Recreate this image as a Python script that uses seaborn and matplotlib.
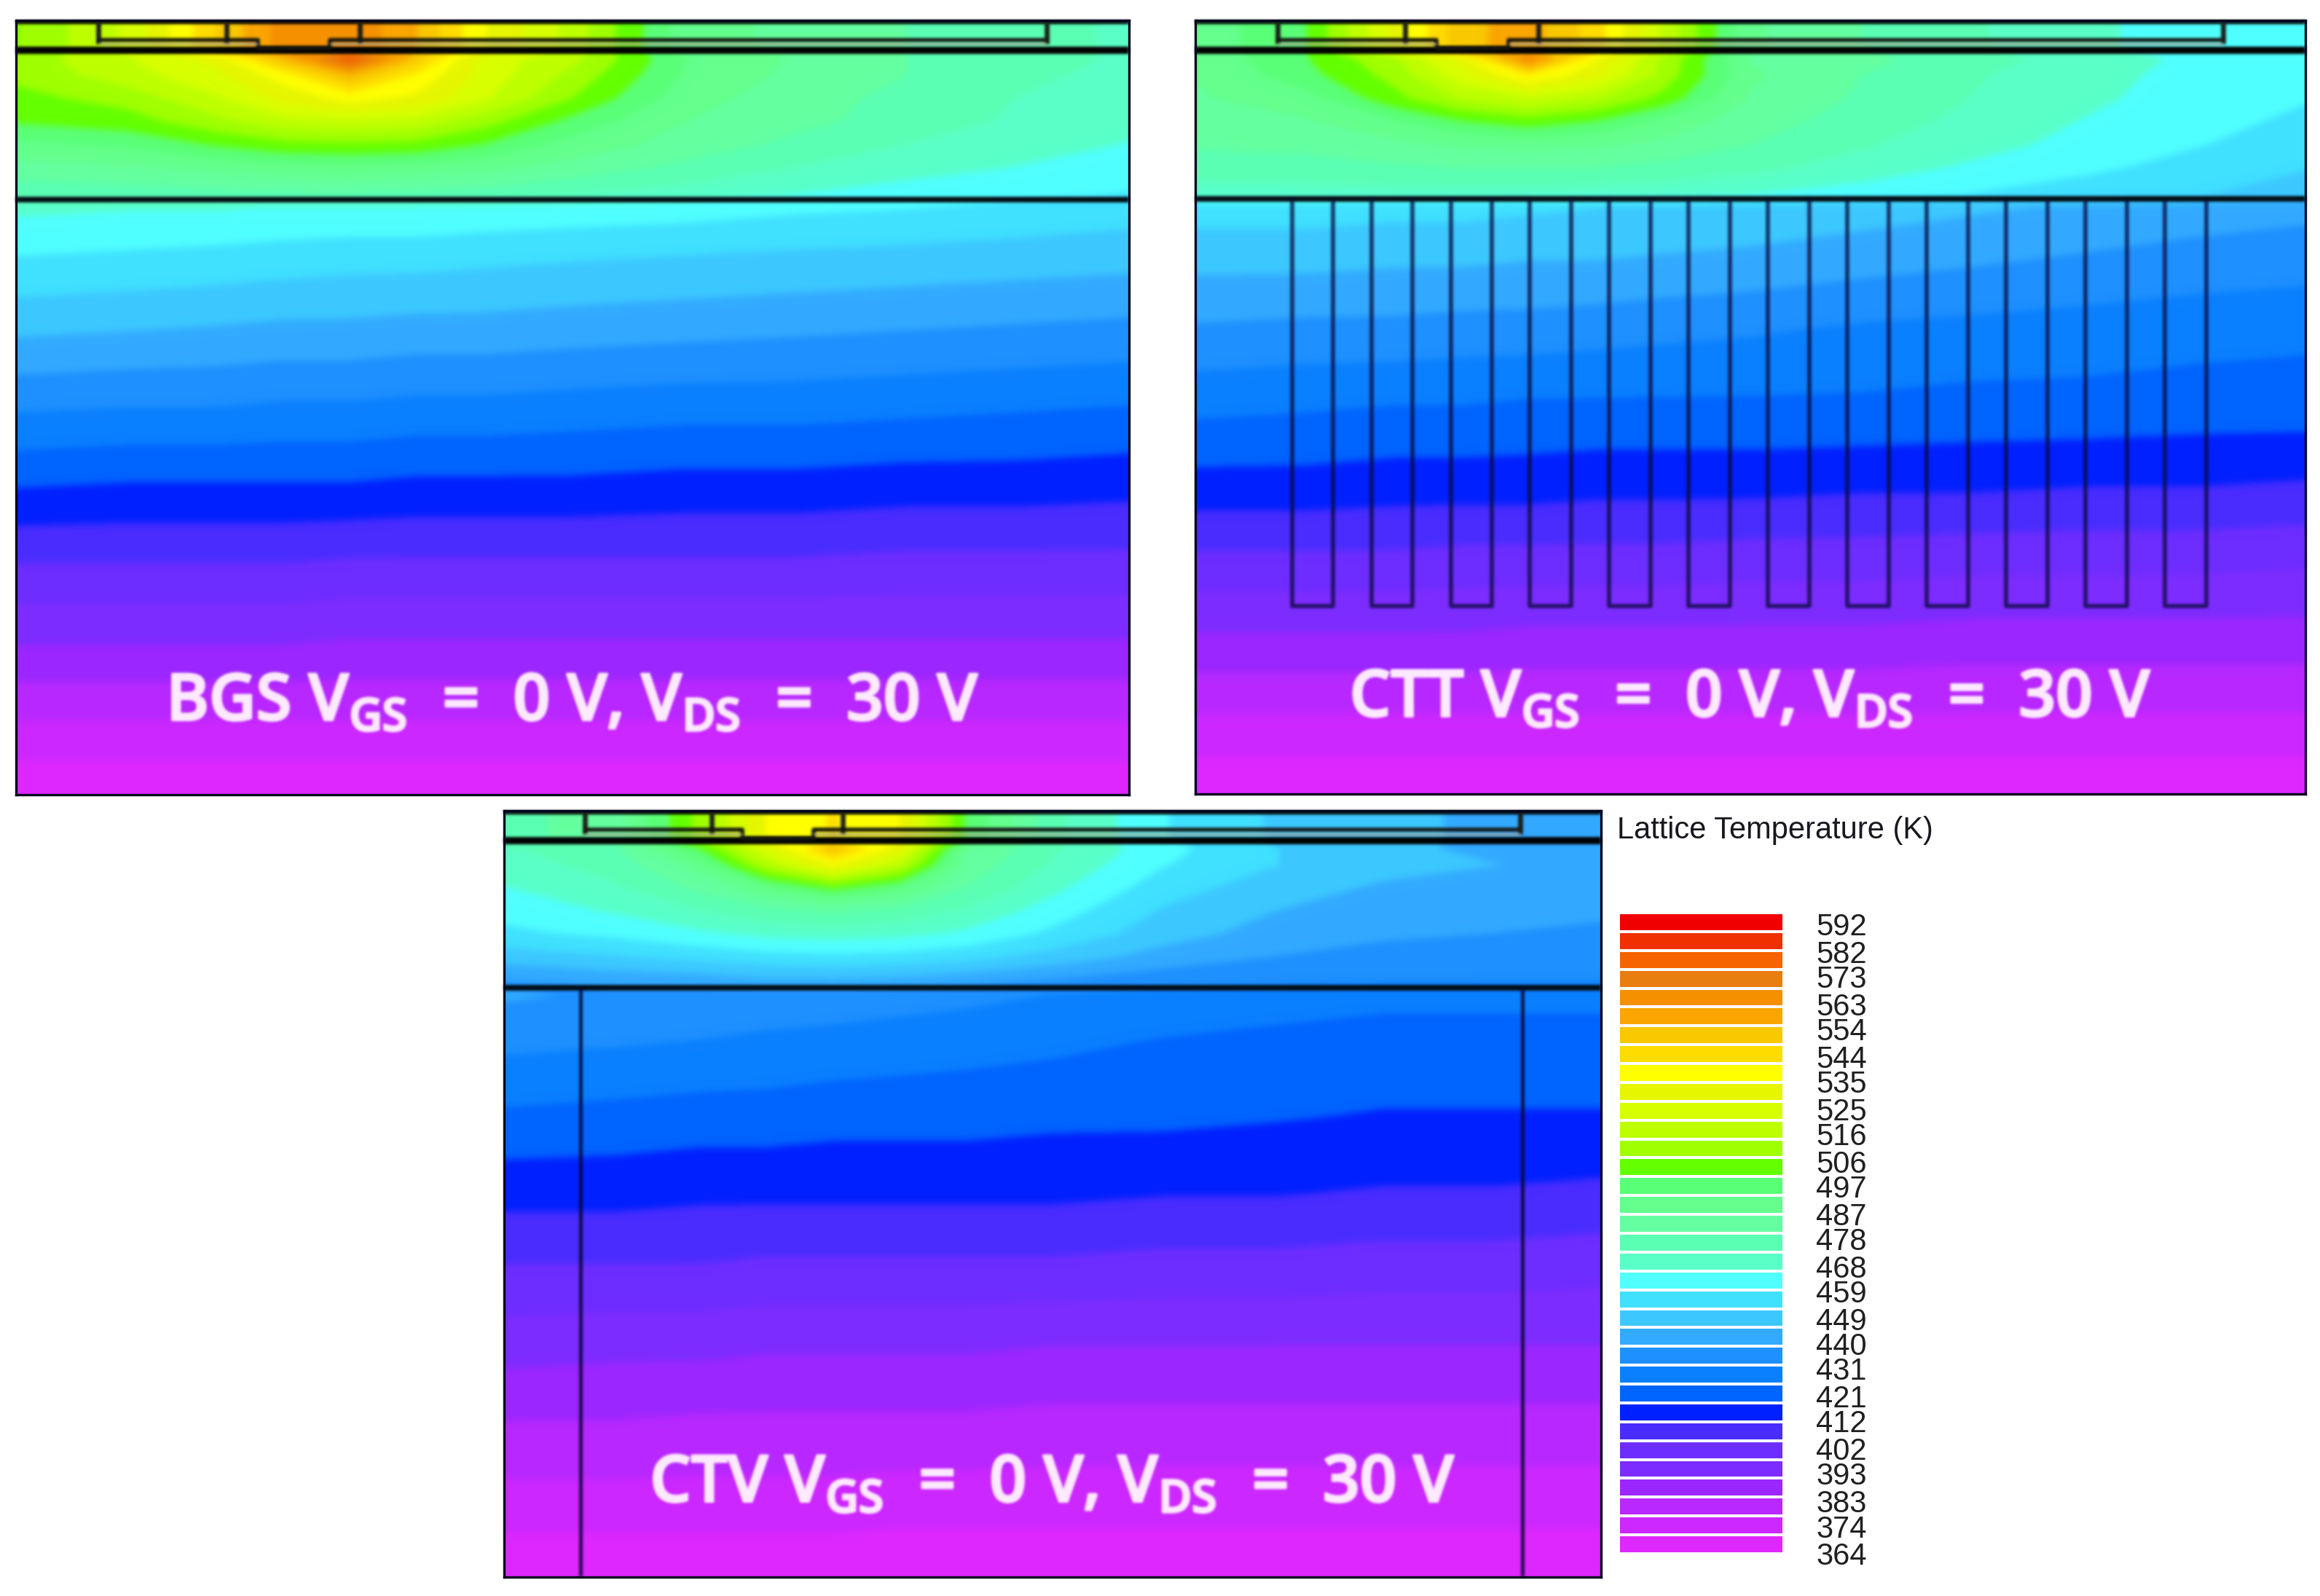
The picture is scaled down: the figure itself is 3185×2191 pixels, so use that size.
#!/bin/python3

import numpy as np
import pandas as pd
import matplotlib
matplotlib.use('Agg')
import matplotlib.pyplot as plt
import matplotlib.patheffects as pe
from matplotlib.colors import ListedColormap, BoundaryNorm, to_rgb
import seaborn as sns

sns.set_theme(style='white')
plt.rcParams['font.family'] = ['Open Sans', 'DejaVu Sans']
plt.rcParams['mathtext.fontset'] = 'custom'
plt.rcParams['mathtext.rm'] = 'Open Sans'
plt.rcParams['mathtext.bf'] = 'Open Sans:semibold'

W, H, DPI = 3185, 2191, 200

# legend swatches, top (hot) to bottom (cold)
BAND_COLORS = ['#F00000', '#F03000', '#F56400', '#E87D10', '#F59000', '#FAA500', '#F8C800',
               '#FFDC00', '#FFFF00', '#E6F500', '#D8FF00', '#BEFF00', '#A0FF00', '#64FF00',
               '#5AFF78', '#64FF8C', '#64FFA0', '#5AFFB4', '#5AFFC8', '#50FFFF', '#40E0FF',
               '#3CC8FF', '#32AAFF', '#1E90FF', '#0A80FF', '#0064FF', '#0020FF', '#4A2CFF',
               '#6E2DFF', '#7D2CFF', '#9C26FF', '#B828FF', '#CC28FF', '#DE28FF']
LEGEND_LABELS = [592, 582, 573, 563, 554, 544, 535, 525, 516, 506, 497, 487, 478,
                 468, 459, 449, 440, 431, 421, 412, 402, 393, 383, 374, 364]
T_MIN, T_MAX = 364.0, 596.0

# sampling stations (fraction of panel width / depth)
X_ST = [0, .1, .18, .24, .30, .36, .42, .5, .6, .7, .8, .9, 1]
Y_ST = [0, .035, .05, .07, .10, .13, .16, .19, .225, .24, .30, .40, .50, .60, .70, .80, .90, 1]

# lattice temperature in K
BGS = [
    [507, 522, 548, 565, 568, 555, 535, 518, 490, 485, 480, 476, 472],
    [507, 522, 548, 565, 568, 555, 535, 518, 490, 485, 480, 476, 472],
    [510, 520, 530, 553, 582, 550, 525, 516, 494, 486, 480, 476, 472],
    [509, 518, 526, 538, 555, 540, 525, 512, 493, 485, 480, 475, 471],
    [505, 510, 520, 530, 537, 533, 522, 507, 490, 483, 478, 473, 470],
    [501, 504, 512, 518, 520, 518, 510, 498, 487, 482, 477, 472, 468],
    [492, 495, 501, 505, 506, 505, 500, 491, 484, 478, 473, 469, 466],
    [484, 486, 489, 491, 492, 491, 489, 484, 478, 473, 469, 466, 463],
    [475, 476, 477, 478, 478, 477, 476, 473, 470, 466, 463, 461, 459],
    [468, 467, 467, 466, 466, 466, 465, 464, 463, 461, 460, 458, 456],
    [460, 459, 458, 457, 456, 456, 455, 454, 453, 452, 451, 450, 449],
    [447, 446, 445, 444, 444, 443, 443, 442, 441, 440, 439, 438, 437],
    [433, 432, 432, 431, 431, 430, 430, 429, 428, 428, 427, 426, 425],
    [419, 418, 418, 418, 418, 417, 417, 417, 416, 416, 415, 415, 414],
    [405, 405, 405, 405, 404, 404, 404, 404, 404, 404, 403, 403, 403],
    [392, 392, 392, 392, 391, 391, 391, 391, 391, 391, 391, 391, 391],
    [378, 378, 378, 378, 378, 378, 378, 378, 378, 378, 378, 378, 378],
    [365, 365, 365, 365, 365, 365, 365, 365, 365, 365, 365, 365, 365],
]
CTT = [
    [489, 500, 530, 553, 558, 545, 520, 488, 480, 474, 468, 463, 460],
    [489, 500, 530, 553, 558, 545, 520, 488, 480, 474, 468, 463, 460],
    [488, 500, 513, 530, 567, 535, 513, 486, 482, 476, 470, 465, 461],
    [487, 498, 510, 525, 541, 530, 512, 488, 480, 474, 469, 464, 460],
    [486, 491, 505, 515, 520, 515, 505, 486, 479, 473, 468, 463, 460],
    [484, 486, 493, 500, 504, 500, 492, 483, 477, 471, 466, 462, 458],
    [481, 482, 485, 488, 489, 488, 485, 480, 474, 469, 464, 460, 456],
    [476, 477, 479, 480, 480, 480, 478, 475, 470, 465, 461, 457, 453],
    [470, 470, 470, 470, 470, 469, 468, 466, 463, 459, 456, 453, 450],
    [456, 456, 455, 455, 454, 453, 452, 451, 449, 447, 445, 443, 441],
    [449, 449, 448, 448, 447, 447, 446, 445, 443, 441, 439, 437, 436],
    [438, 437, 437, 436, 436, 435, 434, 433, 431, 430, 429, 428, 427],
    [427, 426, 425, 425, 424, 424, 424, 424, 424, 423, 423, 422, 422],
    [416, 416, 415, 415, 415, 414, 414, 414, 413, 413, 412, 412, 411],
    [403, 403, 403, 402, 402, 402, 402, 401, 401, 400, 400, 400, 399],
    [390, 390, 390, 390, 389, 389, 389, 389, 389, 388, 388, 388, 388],
    [377, 377, 377, 377, 377, 377, 377, 377, 377, 377, 377, 377, 377],
    [365, 365, 365, 365, 365, 365, 365, 365, 365, 365, 365, 365, 365],
]
CTV = [
    [478, 483, 510, 535, 542, 535, 500, 475, 460, 452, 447, 445, 444],
    [478, 483, 510, 535, 542, 535, 500, 475, 460, 452, 447, 445, 444],
    [472, 478, 500, 525, 553, 530, 487, 474, 462, 453, 448, 444, 441],
    [470, 476, 490, 515, 535, 517, 485, 472, 460, 453, 448, 446, 444],
    [466, 472, 482, 492, 502, 494, 480, 468, 456, 449, 445, 443, 442],
    [462, 467, 473, 478, 481, 478, 472, 463, 452, 446, 442, 441, 440],
    [458, 461, 465, 468, 469, 468, 465, 458, 449, 443, 440, 439, 438],
    [449, 452, 455, 457, 458, 457, 455, 450, 443, 439, 437, 436, 435],
    [438, 440, 441, 443, 443, 442, 440, 437, 434, 433, 432, 432, 432],
    [440, 438, 437, 436, 436, 435, 434, 432, 430, 428, 427, 427, 427],
    [434, 433, 432, 431, 430, 429, 428, 427, 425, 424, 423, 423, 423],
    [424, 423, 422, 422, 421, 421, 421, 420, 420, 419, 418, 418, 418],
    [414, 414, 413, 413, 413, 413, 413, 413, 412, 412, 411, 411, 410],
    [404, 404, 404, 403, 403, 403, 403, 403, 402, 402, 401, 401, 400],
    [394, 393, 393, 392, 392, 392, 392, 391, 391, 391, 391, 391, 391],
    [384, 384, 383, 383, 383, 383, 383, 382, 382, 382, 382, 382, 382],
    [375, 375, 375, 375, 375, 374, 374, 374, 374, 374, 374, 374, 374],
    [365, 365, 365, 365, 365, 365, 365, 365, 365, 365, 365, 365, 365],
]
TITLES = ['BGS', 'CTT', 'CTV']

LINE = '#05051e'
LABEL = '#fdeaff'


def gauss(a, sigma):
    r = int(3 * sigma)
    k = np.exp(-.5 * (np.arange(-r, r + 1) / sigma) ** 2)
    k /= k.sum()
    for axis in (0, 1):
        a = sum(w * np.roll(a, i - r, axis=axis) for i, w in enumerate(k))
    return a


def field_blur(sigma):
    # the source is a soft screenshot, so the bands are not crisp
    r = int(3 * sigma)

    def f(img, dpi):
        a = np.pad(img, ((r, r), (r, r), (0, 0)), mode='edge')
        return gauss(a, sigma)[r:-r, r:-r], 0, 0
    return f


def soft(color, sigma):
    r = int(3 * sigma) + 1
    rgb = to_rgb(color)

    def f(img, dpi):
        alpha = np.pad(img[..., 3], r, mode='constant')
        out = np.zeros(alpha.shape + (4,))
        out[..., :3] = rgb
        out[..., 3] = gauss(alpha, sigma)
        return out, -r, -r
    return f


def panel_axes(fig, x0, y0, x1, y1):
    return fig.add_axes([x0 / W, 1 - y1 / H, (x1 - x0) / W, (y1 - y0) / H])


def draw_field(ax, field, levels, colors):
    cs = ax.contourf(X_ST, Y_ST, np.array(field, dtype=float), levels=levels, colors=colors, extend='both')
    cs.set_edgecolor('face')
    cs.set_linewidth(0.3)
    cs.set_agg_filter(field_blur(5.0))
    ax.set_xlim(0, 1)
    ax.set_ylim(1, 0)
    ax.set_xticks([])
    ax.set_yticks([])
    for s in ax.spines.values():
        s.set_visible(True)
        s.set_color(LINE)
        s.set_linewidth(1.2)


def device_line(ax, xs, ys, color, lw, alpha=1.0):
    line, = ax.plot(xs, ys, color=color, lw=lw, alpha=alpha, solid_capstyle='butt')
    line.set_agg_filter(soft(color, 1.8))
    return line


def draw_device(ax):
    # top edge, gate strip and the two layer boundaries
    device_line(ax, [0, 1], [0.002, 0.002], 'black', 2.2)
    device_line(ax, [0, 1], [0.039, 0.039], 'black', 3.6)
    device_line(ax, [0, 1], [0.231, 0.231], '#020a10', 2.8)
    for x in [.074, .189, .309, .926]:
        device_line(ax, [x, x], [0.002, 0.030], '#1a1a14', 2.4)
    device_line(ax, [.074, .189, .217, .217, .282, .282, .926], [.025, .025, .025, .036, .036, .025, .025],
                '#141410', 2.0)
    device_line(ax, [.074, .217], [.0305, .0305], '#a8a090', 1.0)
    device_line(ax, [.282, .926], [.0305, .0305], '#a8a090', 1.0)


def draw_label(ax, name, y):
    txt = name + r' V$_{\mathbf{GS}}$  =  0 V, V$_{\mathbf{DS}}$  =  30 V'
    t = ax.text(0.5, y, txt, ha='center', va='baseline', color=LABEL, fontsize=32, fontweight='semibold')
    t.set_path_effects([pe.withStroke(linewidth=1.1, foreground=LABEL)])
    t.set_agg_filter(soft(LABEL, 1.6))


def main():
    colors_low = BAND_COLORS[::-1]
    levels = np.linspace(T_MIN, T_MAX, len(BAND_COLORS) + 1)
    fig = plt.figure(figsize=(W / DPI, H / DPI), dpi=DPI, facecolor='white')

    boxes = [(22, 28, 1550, 1091), (1641, 28, 3165, 1090), (692, 1113, 2198, 2165)]
    fields = [BGS, CTT, CTV]
    label_y = [.904, .900, .902]
    axes = []
    for box, field, name, ly in zip(boxes, fields, TITLES, label_y):
        ax = panel_axes(fig, *box)
        draw_field(ax, field, levels, colors_low)
        draw_device(ax)
        draw_label(ax, name, ly)
        axes.append(ax)

    # CTT fins
    ax = axes[1]
    for i in range(12):
        x = .087 + i * .0715
        device_line(ax, [x, x, x + .0373, x + .0373], [.231, .757, .757, .231], '#0a0a3c', 2.0, alpha=.8)

    # CTV side trenches
    ax = axes[2]
    for x in [.07, .928]:
        device_line(ax, [x, x], [.231, 1], '#050530', 1.7, alpha=.9)

    # legend
    lax = panel_axes(fig, 2222, 1253, 2449, 2133)
    step = (T_MAX - T_MIN) / len(BAND_COLORS)
    mids = T_MAX - step * (np.arange(len(BAND_COLORS)) + .5)
    df = pd.DataFrame({'T': mids})
    sns.heatmap(df, ax=lax, cbar=False, cmap=ListedColormap(colors_low),
                norm=BoundaryNorm(levels, len(colors_low)), linewidths=1.3, linecolor='white',
                xticklabels=False, yticklabels=False)
    lax.set_xticks([])
    lax.set_xlabel('')
    lax.set_ylabel('')
    lax.yaxis.tick_right()
    lax.set_yticks([(T_MAX - v) / step for v in LEGEND_LABELS])
    lax.set_yticklabels(LEGEND_LABELS, family='Liberation Sans', fontsize=15, color='#202020')
    lax.tick_params(axis='y', length=0, pad=16, right=False, left=False)

    fig.text(2220 / W, 1 - 1140 / H, 'Lattice Temperature (K)', family='Liberation Sans', fontsize=15,
             color='#181820', ha='left', va='center')

    fig.savefig('out.png', dpi=DPI)


if __name__ == '__main__':
    main()
